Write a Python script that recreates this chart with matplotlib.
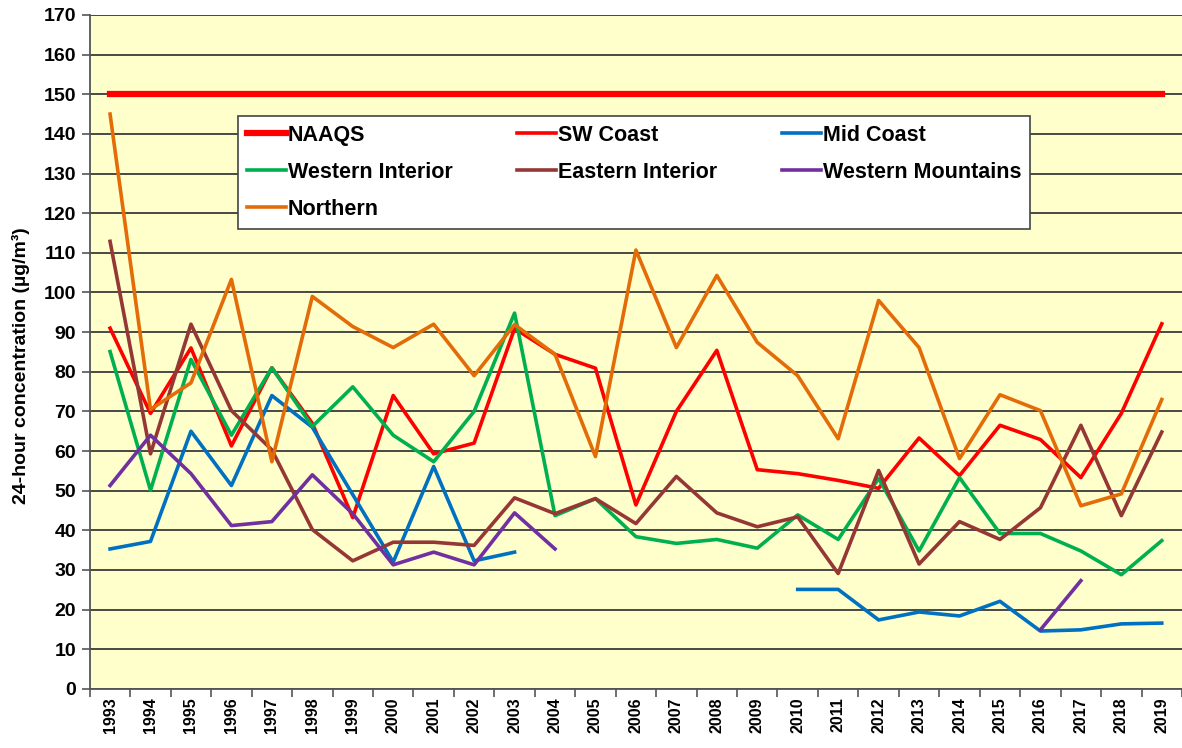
import matplotlib
matplotlib.use("Agg")
import matplotlib.pyplot as plt
import numpy as np

plt.rcParams['font.family'] = ['Liberation Sans', 'DejaVu Sans']

years = list(range(1993, 2020))
naaqs = [150] * len(years)

sw_coast = [91, 69.5, 86, 61.3, 81, 67, 43.2, 74, 59.3, 62, 90.9, 84.4, 80.9, 46.4,
            70, 85.4, 55.3, 54.3, 52.6, 50.6, 63.3, 53.8, 66.5, 62.9, 53.3, 69.5, 92.1]
mid_coast = [35.3, 37.2, 65, 51.3, 74, 66, 49, 32, 56.1, 32.3, 34.5, None, None, None,
             None, None, None, 25.1, 25.1, 17.4, 19.4, 18.4, 22.1, 14.6, 14.9, 16.4, 16.6]
western_interior = [85.1, 50.1, 83.1, 64, 81, 66.2, 76.2, 64, 57.3, 70, 94.8, 43.7, 48, 38.4,
                    36.7, 37.7, 35.5, 43.9, 37.7, 53.1, 34.8, 53.3, 39.2, 39.2, 34.8, 28.8, 37.4]
eastern_interior = [112.9, 59.3, 92, 70.2, 60.3, 40.2, 32.3, 37, 37, 36.2, 48.2, 44.2, 48, 41.7,
                    53.6, 44.4, 40.9, 43.4, 29.1, 55.1, 31.5, 42.2, 37.7, 45.7, 66.5, 43.7, 64.8]
western_mountains = [51.3, 64, 54.3, 41.2, 42.2, 54, 44.2, 31.3, 34.5, 31.3, 44.4, 35.3, None, None,
                     None, None, None, None, None, None, None, None, None, 14.9, 27.3, None, None]
northern = [145, 70.5, 77.2, 103.3, 57.3, 99, 91.4, 86.1, 92, 79, 91.9, 84.4, 58.6, 110.7,
            86.1, 104.3, 87.4, 79, 63.1, 98, 86.1, 58.1, 74.2, 70.2, 46.2, 49.2, 73]


def arr(v):
    return np.array([np.nan if a is None else a for a in v], dtype=float)


fig = plt.figure(figsize=(11.82, 7.48), dpi=100)
ax = fig.add_axes([0.076, 0.079, 0.924, 0.901])
ax.set_facecolor('#FFFFCC')

x = np.arange(len(years))
h_naaqs, = ax.plot(x, naaqs, color='#FF0000', lw=4.5, label='NAAQS')
h_sw, = ax.plot(x, arr(sw_coast), color='#FF0000', lw=2.6, label='SW Coast')
h_mid, = ax.plot(x, arr(mid_coast), color='#0070C0', lw=2.6, label='Mid Coast')
h_wi, = ax.plot(x, arr(western_interior), color='#00B050', lw=2.6, label='Western Interior')
h_ei, = ax.plot(x, arr(eastern_interior), color='#953735', lw=2.6, label='Eastern Interior')
h_wm, = ax.plot(x, arr(western_mountains), color='#7030A0', lw=2.6, label='Western Mountains')
h_no, = ax.plot(x, arr(northern), color='#E36C09', lw=2.6, label='Northern')

ax.set_xlim(-0.5, len(years) - 0.5)
ax.set_ylim(0, 170)
ax.set_yticks(np.arange(0, 171, 10))
ax.set_yticklabels([str(v) for v in range(0, 171, 10)], fontsize=14, fontweight='bold')
ax.yaxis.grid(True, color='#3a3a3a', lw=1.3)
ax.set_axisbelow(True)

ax.set_xticks(x)
ax.set_xticklabels([str(y) for y in years], rotation=90, fontsize=11.5, fontweight='bold')
ax.tick_params(axis='x', length=0, pad=6)
ax.set_xticks(np.arange(-0.5, len(years), 1), minor=True)
ax.tick_params(axis='x', which='minor', length=6, color='#555555', width=1.2)
ax.tick_params(axis='y', length=6, color='#555555', width=1.2, pad=4)

for s in ['top', 'right']:
    ax.spines[s].set_visible(False)
for s in ['left', 'bottom']:
    ax.spines[s].set_color('#555555')
    ax.spines[s].set_linewidth(1.3)

ax.set_ylabel('24-hour concentration (µg/m³)', fontsize=14, fontweight='bold')
ax.yaxis.set_label_coords(-0.055, 0.48)

handles = [h_naaqs, h_wi, h_no, h_sw, h_ei, h_mid, h_wm]
leg = ax.legend(handles=handles, labels=[h.get_label() for h in handles], ncol=3,
                loc='upper left', bbox_to_anchor=(0.136, 0.85), fancybox=False,
                framealpha=1, edgecolor='#444444', prop={'weight': 'bold', 'size': 15.5},
                handlelength=1.8, handletextpad=0.1, columnspacing=3.0, labelspacing=0.75,
                borderpad=0.4, borderaxespad=0)
leg.get_frame().set_linewidth(1.2)
leg.get_frame().set_zorder(5)

fig.savefig('out.png', dpi=100, facecolor='white')
